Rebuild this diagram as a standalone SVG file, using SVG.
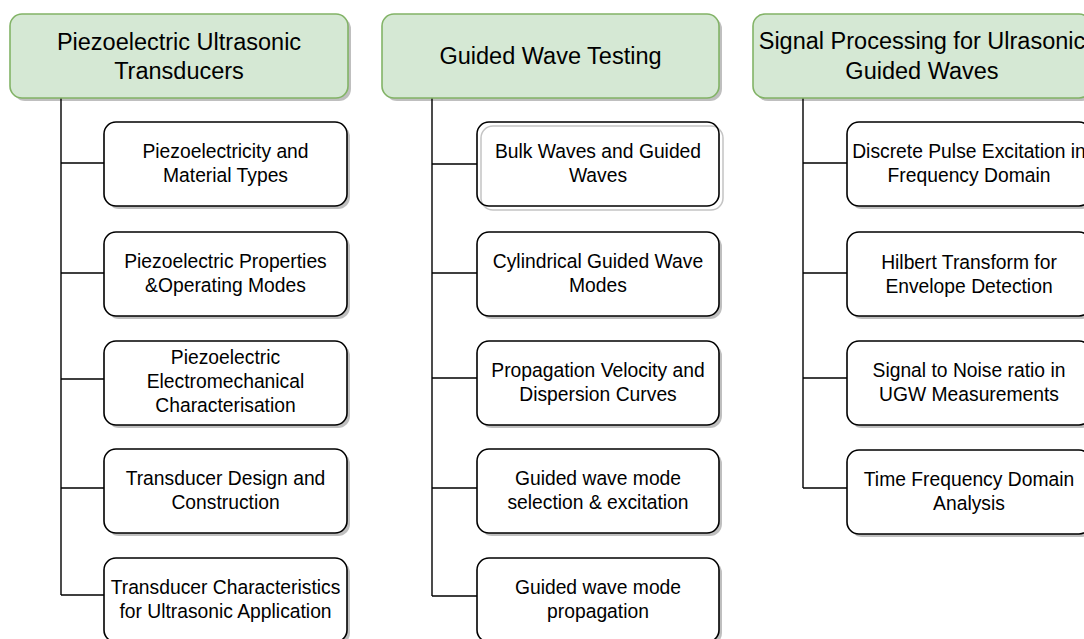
<svg xmlns="http://www.w3.org/2000/svg" width="1084" height="639" viewBox="0 0 1084 639">
<style>
.hdr{fill:#d5e8d4;stroke:#82b366;stroke-width:1.6}
.box{fill:#ffffff;stroke:#000000;stroke-width:1.6}
.shd{fill:#000000;fill-opacity:0.25;stroke:none}
.ht{font-family:"Liberation Sans",Arial,sans-serif;font-size:23.5px;fill:#000;text-anchor:middle}
.bt{font-family:"Liberation Sans",Arial,sans-serif;font-size:19.3px;fill:#000;text-anchor:middle}
.con{fill:none;stroke:#000000;stroke-width:1.4}
</style>
<rect width="1084" height="639" fill="#ffffff"/>
<g id="connectors">
<path class="con" d="M61 98V595M61 163H104M61 273H104M61 379H104M61 488H104M61 595H104"/>
<path class="con" d="M432 98V596M432 164H477M432 273H477M432 378H477M432 488H477M432 596H477"/>
<path class="con" d="M803 98V488M803 163H847M803 273H847M803 378H847M803 488H847"/>
</g>
<g id="h1">
<rect class="shd" x="13" y="17" width="338" height="84" rx="12"/>
<rect class="hdr" x="10" y="14" width="338" height="84" rx="12"/>
<text class="ht" x="179" y="50">Piezoelectric Ultrasonic</text>
<text class="ht" x="179" y="79">Transducers</text>
</g>
<g id="h2">
<rect class="shd" x="385" y="17" width="337" height="84" rx="12"/>
<rect class="hdr" x="382" y="14" width="337" height="84" rx="12"/>
<text class="ht" x="550.5" y="64">Guided Wave Testing</text>
</g>
<g id="h3">
<rect class="shd" x="756" y="17" width="338" height="84" rx="12"/>
<rect class="hdr" x="753" y="14" width="338" height="84" rx="12"/>
<text class="ht" x="922" y="49">Signal Processing for Ulrasonic</text>
<text class="ht" x="922" y="79">Guided Waves</text>
</g>
<g id="c1n1">
<rect class="shd" x="107" y="125" width="243" height="84" rx="12"/>
<rect class="box" x="104" y="122" width="243" height="84" rx="12"/>
<text class="bt" x="225.5" y="158">Piezoelectricity and</text>
<text class="bt" x="225.5" y="182">Material Types</text>
</g>
<g id="c1n2">
<rect class="shd" x="107" y="235" width="243" height="84" rx="12"/>
<rect class="box" x="104" y="232" width="243" height="84" rx="12"/>
<text class="bt" x="225.5" y="268">Piezoelectric Properties</text>
<text class="bt" x="225.5" y="292">&amp;Operating Modes</text>
</g>
<g id="c1n3">
<rect class="shd" x="107" y="344" width="243" height="84" rx="12"/>
<rect class="box" x="104" y="341" width="243" height="84" rx="12"/>
<text class="bt" x="225.5" y="364">Piezoelectric</text>
<text class="bt" x="225.5" y="388">Electromechanical</text>
<text class="bt" x="225.5" y="412">Characterisation</text>
</g>
<g id="c1n4">
<rect class="shd" x="107" y="452" width="243" height="84" rx="12"/>
<rect class="box" x="104" y="449" width="243" height="84" rx="12"/>
<text class="bt" x="225.5" y="485">Transducer Design and</text>
<text class="bt" x="225.5" y="509">Construction</text>
</g>
<g id="c1n5">
<rect class="shd" x="107" y="561" width="243" height="84" rx="12"/>
<rect class="box" x="104" y="558" width="243" height="84" rx="12"/>
<text class="bt" x="225.5" y="594">Transducer Characteristics</text>
<text class="bt" x="225.5" y="618">for Ultrasonic Application</text>
</g>
<g id="c2n1">
<rect x="481" y="126" width="242" height="84" rx="12" fill="#ffffff" stroke="#c4c4c4" stroke-width="1.5"/>
<rect x="477" y="122" width="242" height="84" rx="12" fill="none" stroke="#000" stroke-width="1.6"/>
<text class="bt" x="598" y="158">Bulk Waves and Guided</text>
<text class="bt" x="598" y="182">Waves</text>
</g>
<g id="c2n2">
<rect class="shd" x="480" y="235" width="242" height="84" rx="12"/>
<rect class="box" x="477" y="232" width="242" height="84" rx="12"/>
<text class="bt" x="598" y="268">Cylindrical Guided Wave</text>
<text class="bt" x="598" y="292">Modes</text>
</g>
<g id="c2n3">
<rect class="shd" x="480" y="344" width="242" height="84" rx="12"/>
<rect class="box" x="477" y="341" width="242" height="84" rx="12"/>
<text class="bt" x="598" y="377">Propagation Velocity and</text>
<text class="bt" x="598" y="401">Dispersion Curves</text>
</g>
<g id="c2n4">
<rect class="shd" x="480" y="452" width="242" height="84" rx="12"/>
<rect class="box" x="477" y="449" width="242" height="84" rx="12"/>
<text class="bt" x="598" y="485">Guided wave mode</text>
<text class="bt" x="598" y="509">selection &amp; excitation</text>
</g>
<g id="c2n5">
<rect class="shd" x="480" y="561" width="242" height="84" rx="12"/>
<rect class="box" x="477" y="558" width="242" height="84" rx="12"/>
<text class="bt" x="598" y="594">Guided wave mode</text>
<text class="bt" x="598" y="618">propagation</text>
</g>
<g id="c3n1">
<rect class="shd" x="850" y="125" width="244" height="84" rx="12"/>
<rect class="box" x="847" y="122" width="244" height="84" rx="12"/>
<text class="bt" x="969" y="158">Discrete Pulse Excitation in</text>
<text class="bt" x="969" y="182">Frequency Domain</text>
</g>
<g id="c3n2">
<rect class="shd" x="850" y="235" width="244" height="84" rx="12"/>
<rect class="box" x="847" y="232" width="244" height="84" rx="12"/>
<text class="bt" x="969" y="269">Hilbert Transform for</text>
<text class="bt" x="969" y="293">Envelope Detection</text>
</g>
<g id="c3n3">
<rect class="shd" x="850" y="344" width="244" height="84" rx="12"/>
<rect class="box" x="847" y="341" width="244" height="84" rx="12"/>
<text class="bt" x="969" y="377">Signal to Noise ratio in</text>
<text class="bt" x="969" y="401">UGW Measurements</text>
</g>
<g id="c3n4">
<rect class="shd" x="850" y="453" width="244" height="84" rx="12"/>
<rect class="box" x="847" y="450" width="244" height="84" rx="12"/>
<text class="bt" x="969" y="486">Time Frequency Domain</text>
<text class="bt" x="969" y="510">Analysis</text>
</g>
</svg>
